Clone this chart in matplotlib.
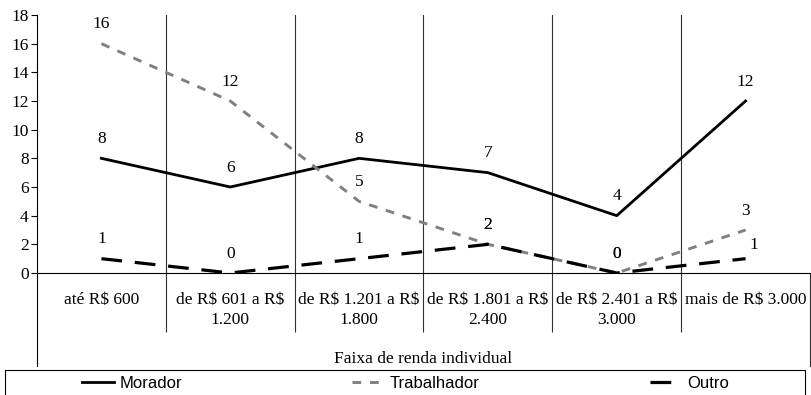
import matplotlib
matplotlib.use("Agg")
import matplotlib.pyplot as plt
from matplotlib.lines import Line2D
from matplotlib.patches import Rectangle

plt.rcParams["font.family"] = ["Liberation Serif", "DejaVu Serif"]

categories = [
    "até R\\$ 600",
    "de R\\$ 601 a R\\$\n1.200",
    "de R\\$ 1.201 a R\\$\n1.800",
    "de R\\$ 1.801 a R\\$\n2.400",
    "de R\\$ 2.401 a R\\$\n3.000",
    "mais de R\\$ 3.000",
]
morador = [8, 6, 8, 7, 4, 12]
trabalhador = [16, 12, 5, 2, 0, 3]
outro = [1, 0, 1, 2, 0, 1]
y_ticks = [0, 2, 4, 6, 8, 10, 12, 14, 16, 18]

W, H = 811, 395
fig = plt.figure(figsize=(W / 100, H / 100), dpi=100)
ax = fig.add_axes([37 / W, 1 - 273 / H, 773 / W, 258 / H])

x = [i + 0.5 for i in range(len(categories))]

ax.plot(x, morador, color="black", lw=2.0, label="Morador")
ax.plot(x, trabalhador, color="#808080", lw=2.1, dashes=(3, 3), label="Trabalhador")
ax.plot(x, outro, color="black", lw=2.3, dashes=(6.5, 4), label="Outro")

fs = 12.5
for xi, v in zip(x, morador):
    ax.annotate(str(v), (xi, v), xytext=(0, 14), textcoords="offset points",
                ha="center", va="center", fontsize=fs)
for xi, v in zip(x, trabalhador):
    ax.annotate(str(v), (xi, v), xytext=(0, 14), textcoords="offset points",
                ha="center", va="center", fontsize=fs)
for i, (xi, v) in enumerate(zip(x, outro)):
    off = (6, 10) if i == len(x) - 1 else (0, 14)
    ax.annotate(str(v), (xi, v), xytext=off, textcoords="offset points",
                ha="center", va="center", fontsize=fs)

ax.set_xlim(0, 6)
ax.set_ylim(0, 18)
ax.set_yticks(y_ticks)
ax.tick_params(axis="y", labelsize=fs, length=4, width=0.8, pad=2)

ax.set_xticks(x)
ax.set_xticklabels(categories, fontsize=fs, linespacing=1.3)
ax.tick_params(axis="x", which="major", length=0, pad=14)
ax.set_xticks(range(1, 6), minor=True)
ax.tick_params(axis="x", which="minor", length=42.5, width=0.8, color="#303030")

for b in range(1, 6):
    ax.axvline(b, color="#303030", lw=0.8, zorder=0)

for s in ["top", "right"]:
    ax.spines[s].set_visible(False)
ax.spines["left"].set_linewidth(0.8)
ax.spines["bottom"].set_linewidth(0.8)

trans = ax.get_xaxis_transform()
ax.add_line(Line2D([0, 0], [0, -0.36], transform=ax.transAxes, color="black", lw=0.8, clip_on=False))
ax.add_line(Line2D([6, 6], [0, -0.36], transform=trans, color="#303030", lw=0.8, clip_on=False))

ax.text(3, -0.334, "Faixa de renda individual", transform=trans, ha="center", va="center", fontsize=fs)

fig.patches.append(Rectangle((5 / W, -0.02), 800 / W, (395 - 370) / H + 0.02,
                             transform=fig.transFigure, fill=False, ec="black", lw=0.8))
leg = fig.legend(loc="center", bbox_to_anchor=(0.5, 1 - 383 / H), ncol=3, frameon=False,
                 prop={"family": "Liberation Sans", "size": 12}, handlelength=1.9,
                 handletextpad=0.35, columnspacing=10.2, borderaxespad=0)

fig.savefig("out.png", dpi=100)
